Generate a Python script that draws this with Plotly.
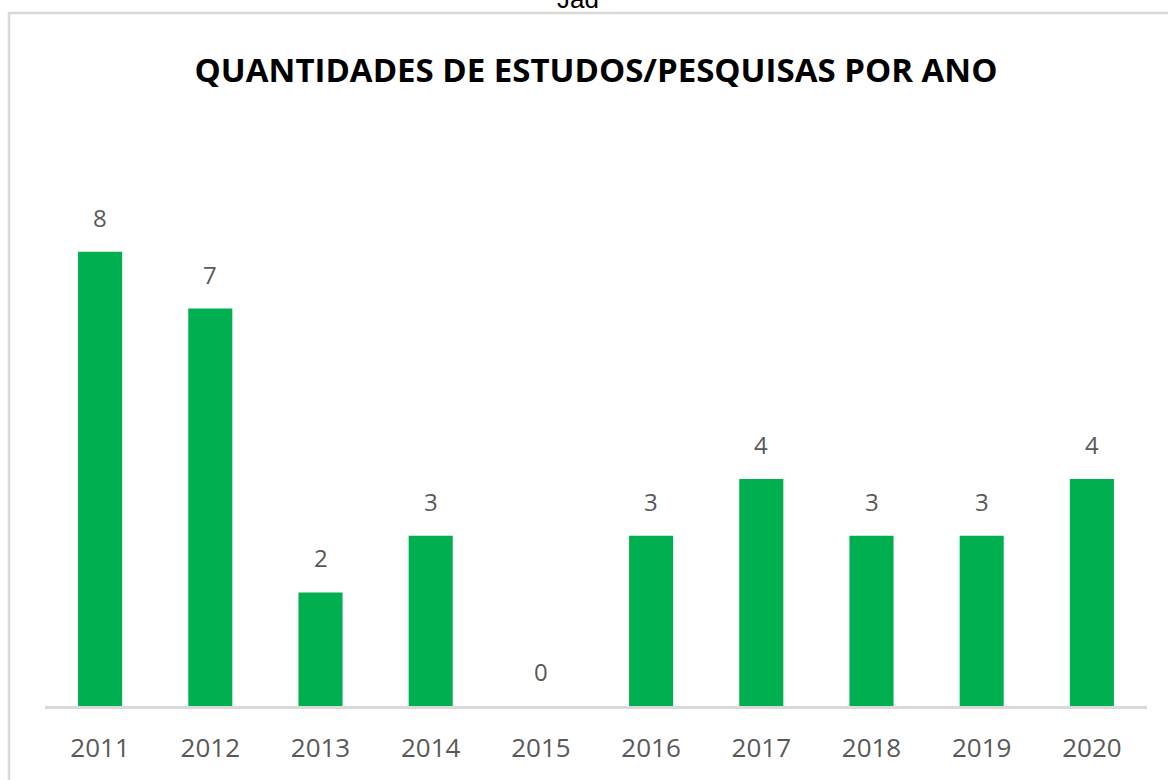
import plotly.graph_objects as go

years = ["2011", "2012", "2013", "2014", "2015", "2016", "2017", "2018", "2019", "2020"]
counts = [8, 7, 2, 3, 0, 3, 4, 3, 3, 4]
title_text = "QUANTIDADES DE ESTUDOS/PESQUISAS POR ANO"
top_text = "Jad"

W, H = 1168, 780
ML, MR, MT, MB = 45, 21, 195, 74
PW = W - ML - MR
PH = H - MT - MB

def px_x(x):
    return (x - ML) / PW

def px_y(y):
    return (H - MB - y) / PH

fig = go.Figure()
fig.add_trace(go.Bar(
    x=years, y=counts,
    marker=dict(color="#00B050", line=dict(width=0)),
    width=0.4,
    hoverinfo="x+y",
))

for i, v in enumerate(counts):
    fig.add_annotation(
        x=i, y=v, xref="x", yref="y",
        text=str(v), showarrow=False,
        yanchor="bottom", yshift=16,
        font=dict(family="Open Sans, sans-serif", size=24, color="#595959"),
    )

fig.add_annotation(
    x=px_x(578), y=px_y(-1), xref="paper", yref="paper",
    text=top_text, showarrow=False, xanchor="center", yanchor="middle",
    font=dict(family="Liberation Sans, Arial, sans-serif", size=26, color="#000000"),
)

fig.add_shape(
    type="rect", xref="paper", yref="paper",
    x0=px_x(9), x1=px_x(1200), y0=px_y(800), y1=px_y(13),
    line=dict(color="#D9D9D9", width=2.5), fillcolor="rgba(0,0,0,0)",
    layer="below",
)

fig.update_layout(
    width=W, height=H,
    margin=dict(l=ML, r=MR, t=MT, b=MB, pad=0),
    paper_bgcolor="white", plot_bgcolor="white",
    showlegend=False,
    title=dict(
        text="<b>" + title_text + "</b>",
        x=0.5, xref="paper", xanchor="center",
        y=1 - 70 / H, yref="container", yanchor="middle",
        font=dict(family="Open Sans, sans-serif", size=33, color="#000000"),
    ),
    xaxis=dict(
        type="category", range=[-0.5, 9.5],
        showline=True, linecolor="#D9D9D9", linewidth=2.5,
        showgrid=False, zeroline=False,
        ticks="outside", ticklen=17, tickcolor="rgba(0,0,0,0)",
        tickfont=dict(family="Open Sans, sans-serif", size=26, color="#595959"),
    ),
    yaxis=dict(
        range=[0, 9], visible=False, showgrid=False, zeroline=False,
    ),
)

fig.write_html(
    "out.html",
    config={"displayModeBar": False},
    post_script="document.body.style.margin='0';document.body.style.overflow='hidden';",
)
